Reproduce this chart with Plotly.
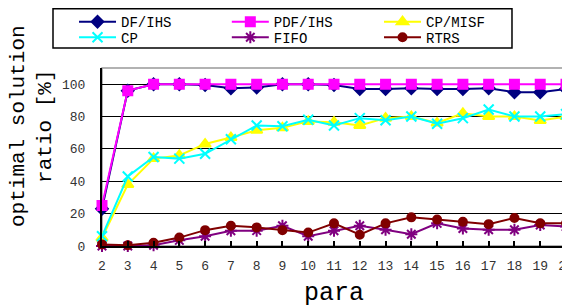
import plotly.graph_objects as go

para = list(range(2, 21))

df_ihs = [23, 96, 100, 100, 99.5, 97.5, 98, 100, 100, 99.5, 97, 97, 97.5, 97, 97, 97.5, 95, 95, 97]
pdf_ihs = [25, 96, 100, 100, 100, 100, 100, 100, 100, 100, 100, 100, 100, 100, 100, 100, 100, 100, 100]
cp_misf = [5, 38, 54, 56, 63, 67, 71.5, 73, 77, 76.5, 74.5, 79, 80, 76, 82, 80, 80, 77.5, 80]
cp = [6, 43, 55, 54, 57, 66, 74.5, 74, 78, 74.5, 79, 77.7, 80, 75.6, 79, 84.4, 80, 80, 81.5]
fifo = [0, 0, 0.5, 3.5, 6, 9.4, 9.5, 12.5, 6, 9.4, 12.5, 10, 7.3, 14, 10.8, 10, 10, 13, 12]
rtrs = [1, 0.5, 2, 5.2, 9.8, 12.5, 11.5, 9.8, 8.3, 14, 7, 14, 17.7, 16.3, 15, 13.5, 17.3, 14, 14]

series = [
    ("DF/IHS", df_ihs, "#000080", "diamond", 9),
    ("PDF/IHS", pdf_ihs, "#FF00FF", "square", 9),
    ("CP/MISF", cp_misf, "#FFFF00", "triangle-up", 10),
    ("CP", cp, "#00FFFF", "x-thin-open", 10),
    ("FIFO", fifo, "#800080", "asterisk-open", 10),
    ("RTRS", rtrs, "#800000", "circle", 8),
]

MONO = "Liberation Mono"
col_x = [-0.0603, 0.269, 0.597]
row_y = [1.348, 1.26]

fig = go.Figure()
legends = {}
for i, (name, vals, color, sym, size) in enumerate(series):
    key = "legend" if i == 0 else f"legend{i + 1}"
    legends[key] = dict(
        orientation="v", x=col_x[i % 3], y=row_y[i // 3], xanchor="left", yanchor="top",
        font=dict(family=MONO, size=14, color="black"),
        itemwidth=37, bgcolor="rgba(0,0,0,0)", tracegroupgap=0,
    )
    fig.add_trace(go.Scatter(
        x=para, y=vals, name=name, mode="lines+markers",
        line=dict(color=color, width=2),
        marker=dict(symbol=sym, size=size, color=color,
                    line=dict(color=color, width=2)),
        cliponaxis=False, legend=key,
    ))

fig.update_layout(
    width=562, height=300,
    margin=dict(l=94, r=4, t=60, b=62, autoexpand=False),
    paper_bgcolor="white", plot_bgcolor="white",
    font=dict(family=MONO, color="black", size=12),
    showlegend=True,
    **legends,
    xaxis=dict(
        range=[2, 20], tickmode="array", tickvals=para,
        ticks="inside", ticklen=5, tickwidth=2, tickcolor="black",
        showline=True, linecolor="black", linewidth=2,
        showgrid=False, zeroline=False, automargin=False,
        ticklabelstandoff=6, ticklabeloverflow="allow",
        tickfont=dict(family=MONO, size=13, color="#333333"),
        title=dict(text="para", font=dict(family=MONO, size=25, color="black"), standoff=15),
    ),
    yaxis=dict(
        range=[0, 110], tickmode="array", tickvals=[0, 20, 40, 60, 80, 100],
        ticks="", showline=True, linecolor="black", linewidth=2,
        showgrid=True, gridcolor="black", gridwidth=1, zeroline=False, automargin=False,
        ticklabelstandoff=12,
        tickfont=dict(family=MONO, size=13, color="#333333"),
    ),
    annotations=[
        dict(text="optimal solution<br>ratio [%]", xref="paper", yref="paper",
             x=-0.1509, y=0.674, xanchor="center", yanchor="middle", textangle=-90,
             showarrow=False, font=dict(family=MONO, size=21, color="black")),
    ],
    shapes=[
        dict(type="rect", xref="paper", yref="paper", x0=0, x1=1, y0=0, y1=1,
             line=dict(color="#999999", width=1.5), layer="below"),
        dict(type="rect", xref="paper", yref="paper", x0=-0.1056, x1=0.8836, y0=1.112, y1=1.333,
             line=dict(color="black", width=1.5)),
    ],
)

fig.write_html("out.html")
